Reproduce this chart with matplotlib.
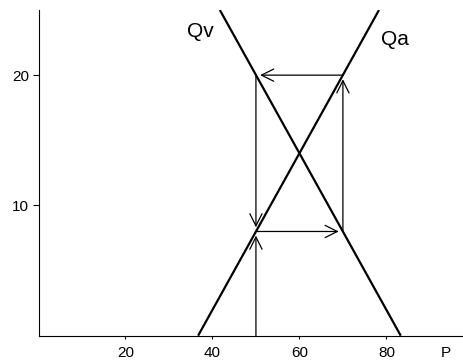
import matplotlib
matplotlib.use("Agg")
import matplotlib.pyplot as plt
from matplotlib.patches import FancyArrowPatch

plt.rcParams['font.family'] = ['Liberation Sans', 'DejaVu Sans']

# supply / demand lines (P, Q)
qv_p = [41.7, 83.3]
qv_q = [25.0, 0.0]
qa_p = [36.7, 78.3]
qa_q = [0.0, 25.0]

# cobweb path
web_p = [50, 50, 70, 70, 50, 50]
web_q = [0, 8, 8, 20, 20, 8]

xticks = [20, 40, 60, 80]
yticks = [10, 20]

fig = plt.figure(figsize=(4.64, 3.62), dpi=100)
ax = fig.add_axes([38.5/464, 26.3/362, 424/464, 325.7/362])

ax.plot(qv_p, qv_q, color='black', lw=1.6, solid_capstyle='butt')
ax.plot(qa_p, qa_q, color='black', lw=1.6, solid_capstyle='butt')

for i in range(len(web_p) - 1):
    a = FancyArrowPatch((web_p[i], web_q[i]), (web_p[i+1], web_q[i+1]),
                        arrowstyle='->,head_length=0.4,head_width=0.2',
                        mutation_scale=22, lw=0.9, color='black',
                        shrinkA=0, shrinkB=3)
    ax.add_patch(a)

ax.text(37.2, 23.35, 'Qv', fontsize=15, ha='center', va='center')
ax.text(82.0, 22.7, 'Qa', fontsize=15, ha='center', va='center')
ax.text(93.6, -1.35, 'P', fontsize=11, ha='center', va='center', clip_on=False)

ax.set_xlim(0, 97.5)
ax.set_ylim(0, 25)
ax.set_xticks(xticks)
ax.set_yticks(yticks)
ax.spines['top'].set_visible(False)
ax.spines['right'].set_visible(False)
ax.tick_params(labelsize=11, width=0.8)
ax.tick_params(axis='x', length=2.5, pad=5)
ax.tick_params(axis='y', length=4, pad=3)

fig.savefig('out.png', dpi=100)
